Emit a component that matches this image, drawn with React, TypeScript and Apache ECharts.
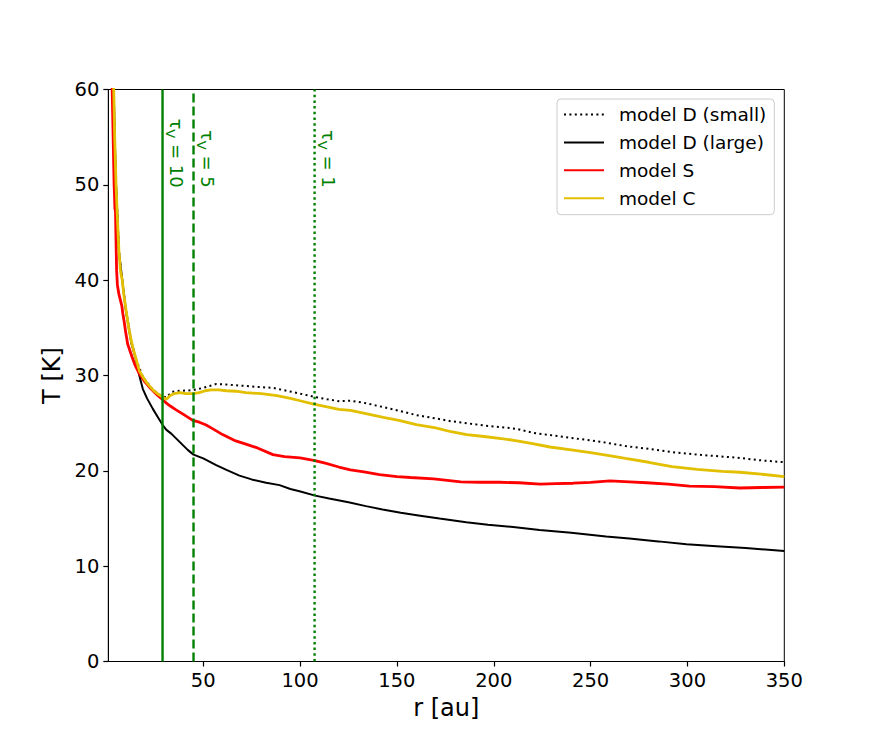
import React, { useEffect, useRef } from "react";
import * as echarts from "echarts";

const X_MIN = 1;
const X_MAX = 350;
const Y_MIN = 0;
const Y_MAX = 60;
const X_TICKS = [50, 100, 150, 200, 250, 300, 350];
const Y_INTERVAL = 10;

const SERIES_NAMES = ["model D (small)", "model D (large)", "model S", "model C"];

const D_SMALL: number[][] = [
  [2, 95], [3, 70], [3.8, 60], [4.3, 55], [5, 50], [6.5, 43], [8.2, 40], [10.2, 36.8], [13, 33.5],
  [15.5, 31.6], [19, 29.8], [24, 28.5], [29, 27.8], [31, 27.7], [34, 28.3], [38, 28.4], [44.6, 28.45],
  [50, 28.7], [56.7, 29.1], [62, 29.05], [68.7, 28.95], [78, 28.8], [86, 28.7], [93, 28.4], [100, 28.1],
  [107.5, 27.75], [114, 27.5], [120.4, 27.3], [126, 27.35], [134, 27.1], [142.6, 26.7], [151, 26.3],
  [160, 25.85], [170, 25.5], [178, 25.2], [186, 25.0], [195, 24.75], [203, 24.6], [212, 24.4], [220, 24.0],
  [229, 23.75], [240, 23.45], [250, 23.2], [258, 22.95], [268, 22.6], [280, 22.3], [292.5, 21.95],
  [305, 21.7], [315, 21.55], [327, 21.35], [338, 21.1], [350, 20.9],
];

const D_LARGE: number[][] = [
  [2, 95], [3, 70], [3.8, 60], [4.3, 55], [5, 50], [6.5, 43], [8.2, 40], [10.2, 36.6], [13, 33.3],
  [15, 31.9], [17, 30], [18.8, 28.6], [21, 27.6], [24, 26.5], [27, 25.5], [29.1, 24.8], [31, 24.3],
  [33.5, 23.9], [36.5, 23.3], [39.5, 22.7], [42, 22.2], [45, 21.7], [50, 21.3], [56.7, 20.6], [62, 20.1],
  [68.7, 19.5], [75, 19.1], [82.5, 18.75], [89.4, 18.5], [95, 18.1], [99.7, 17.85], [107.8, 17.4],
  [115, 17.1], [125, 16.7], [134, 16.3], [142.6, 15.95], [152, 15.6], [162, 15.3], [172, 15.0],
  [185.8, 14.6], [197, 14.35], [210, 14.1], [223.7, 13.8], [240, 13.5], [258, 13.1], [270, 12.9],
  [285, 12.6], [299.5, 12.3], [315, 12.1], [330, 11.9], [350, 11.6],
];

const MODEL_S: number[][] = [
  [1.5, 95], [2.5, 70], [3, 60], [3.5, 55], [4, 50], [4.2, 49], [4.4, 47.5], [4.7, 47.3], [5, 44],
  [5.3, 41], [5.7, 39.5], [6.5, 38.5], [7.5, 37.7], [8, 37.3], [8.5, 36.5], [9.3, 35.5], [10, 34.5],
  [11, 33.3], [12, 32.7], [13.5, 31.8], [15, 31], [17, 30.2], [20, 29.3], [23, 28.6], [26, 28],
  [29, 27.5], [31, 27.1], [33, 26.8], [36, 26.4], [40, 25.9], [44.6, 25.3], [48, 25.1], [51.5, 24.8],
  [55, 24.4], [60, 23.8], [66, 23.2], [72, 22.8], [78, 22.4], [86, 21.7], [92, 21.5], [100, 21.35],
  [107, 21.1], [113, 20.8], [120, 20.4], [126, 20.1], [133, 19.9], [141, 19.6], [150, 19.4],
  [157, 19.3], [169, 19.15], [176, 19.0], [183, 18.85], [193, 18.8], [203, 18.8], [213, 18.75],
  [224, 18.6], [232, 18.65], [241, 18.7], [250, 18.8], [260, 18.95], [270, 18.85], [279, 18.75],
  [290, 18.6], [301, 18.4], [314, 18.35], [327, 18.2], [338, 18.25], [350, 18.3],
];

const MODEL_C: number[][] = [
  [2, 95], [3, 70], [3.8, 60], [4.3, 55], [5, 50], [5.8, 46], [6.5, 43], [7.3, 41], [8.2, 40], [9, 38.5],
  [10.2, 36.8], [11.5, 35], [13, 33.5], [14, 32.7], [15.5, 31.6], [17, 30.5], [19, 29.8], [21, 29.2],
  [24, 28.5], [27, 28], [29, 27.75], [31, 27.5], [33, 27.9], [35, 28.1], [38, 28.2], [41, 28.1],
  [44.6, 28.1], [48, 28.2], [51, 28.4], [54, 28.5], [58, 28.5], [62, 28.4], [67, 28.35], [72, 28.2],
  [80, 28.1], [88, 27.9], [95, 27.6], [100, 27.35], [107, 27.0], [114, 26.7], [120, 26.45], [126, 26.35],
  [134, 26.0], [143, 25.6], [151, 25.3], [160, 24.85], [170, 24.5], [178, 24.1], [186, 23.8],
  [195, 23.6], [205, 23.35], [212, 23.15], [220, 22.85], [229, 22.5], [240, 22.2], [250, 21.9],
  [258, 21.65], [268, 21.3], [280, 20.9], [292, 20.45], [305, 20.15], [318, 19.95], [327, 19.85],
  [338, 19.65], [350, 19.4],
];

const TAU_X = [29, 45, 107.5];
const TAU_VALUES = ["10", "5", "1"];
const TAU_LABEL_Y = 49.7;

const FONT = "DejaVu Sans";
const GREEN = "#008000";
const TAU_LINE_TYPES: any[] = ["solid", [9, 4], [2.5, 3.2]];

export default function App() {
  const ref = useRef<HTMLDivElement>(null);

  useEffect(() => {
    if (!ref.current) return;
    const chart = echarts.init(ref.current, null, { renderer: "svg" });

    const mainSeries = [
      { name: SERIES_NAMES[0], data: D_SMALL, color: "#000000", width: 2, type: [2, 3.4] as any },
      { name: SERIES_NAMES[1], data: D_LARGE, color: "#000000", width: 2, type: "solid" },
      { name: SERIES_NAMES[2], data: MODEL_S, color: "#ff0000", width: 2.8, type: "solid" },
      { name: SERIES_NAMES[3], data: MODEL_C, color: "#e2bf00", width: 2.8, type: "solid" },
    ].map((s) => ({
      type: "line",
      name: s.name,
      data: s.data,
      symbol: "none",
      showSymbol: false,
      clip: true,
      color: s.color,
      lineStyle: { color: s.color, width: s.width, type: s.type, cap: "butt" },
      z: 2,
    }));

    const tauSeries = TAU_X.map((x, i) => ({
      type: "line",
      name: "tau" + i,
      data: [
        [x, Y_MIN],
        [x, Y_MAX],
      ],
      symbol: "none",
      showSymbol: false,
      silent: true,
      color: GREEN,
      lineStyle: { color: GREEN, width: 2.4, type: TAU_LINE_TYPES[i], cap: "butt" },
      z: 5,
    }));

    chart.setOption({
      animation: false,
      textStyle: { fontFamily: FONT },
      grid: {
        left: 108.3,
        right: 87.7,
        top: 89.5,
        bottom: 82.5,
        show: true,
        borderColor: "#000",
        borderWidth: 1,
        backgroundColor: "transparent",
      },
      legend: {
        data: SERIES_NAMES,
        orient: "vertical",
        left: 557,
        top: 99,
        padding: [6, 8, 7, 6],
        itemWidth: 40,
        itemHeight: 14,
        itemGap: 8.9,
        backgroundColor: "rgba(255,255,255,0.8)",
        borderColor: "#cccccc",
        borderWidth: 1,
        borderRadius: 4,
        itemStyle: { opacity: 0 },
        textStyle: {
          fontFamily: FONT,
          fontSize: 18.5,
          color: "#000",
          padding: [0, 0, 0, 10],
        },
      },
      xAxis: {
        type: "value",
        min: X_MIN,
        max: X_MAX,
        name: "r [au]",
        nameLocation: "middle",
        nameGap: 34,
        nameTextStyle: { fontFamily: FONT, fontSize: 24, color: "#000" },
        axisLine: { show: true, lineStyle: { color: "#000", width: 1 } },
        axisTick: { show: true, length: 5, lineStyle: { color: "#000", width: 1.2 }, customValues: X_TICKS },
        axisLabel: { fontFamily: FONT, fontSize: 19.5, color: "#000", margin: 9, customValues: X_TICKS },
        splitLine: { show: false },
      },
      yAxis: {
        type: "value",
        min: Y_MIN,
        max: Y_MAX,
        interval: Y_INTERVAL,
        name: "T [K]",
        nameLocation: "middle",
        nameGap: 40,
        nameTextStyle: { fontFamily: FONT, fontSize: 24, color: "#000" },
        axisLine: { show: true, lineStyle: { color: "#000", width: 1 } },
        axisTick: { show: true, length: 5, lineStyle: { color: "#000", width: 1.2 } },
        axisLabel: { fontFamily: FONT, fontSize: 19.5, color: "#000", margin: 9 },
        splitLine: { show: false },
      },
      series: [...mainSeries, ...tauSeries],
    });

    const graphics = TAU_X.map((x, i) => {
      const p = chart.convertToPixel({ gridIndex: 0 }, [x, TAU_LABEL_Y]) as number[];
      return {
        type: "text",
        x: p[0] + 1,
        y: p[1],
        rotation: -Math.PI / 2,
        z: 10,
        style: {
          text: "{t|τ}{s|V}{t| = " + TAU_VALUES[i] + "}",
          align: "right",
          verticalAlign: "bottom",
          fill: GREEN,
          fontFamily: FONT,
          fontSize: 18,
          rich: {
            t: { fontFamily: FONT, fontSize: 18, fill: GREEN, color: GREEN },
            s: { fontFamily: FONT, fontSize: 13, fill: GREEN, color: GREEN, verticalAlign: "bottom", lineHeight: 25 },
          },
        },
      };
    });
    chart.setOption({ graphic: graphics });

    return () => chart.dispose();
  }, []);

  return (
    <div
      ref={ref}
      style={{ position: "absolute", left: 0, top: 0, width: 872, height: 744, background: "#fff" }}
    />
  );
}
